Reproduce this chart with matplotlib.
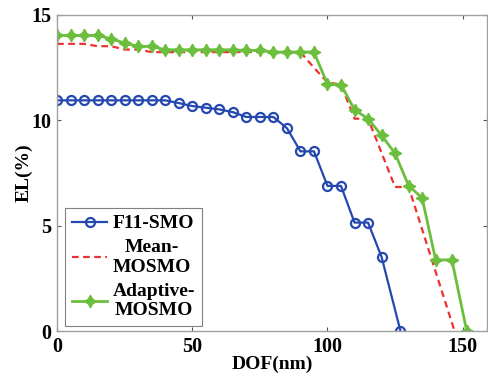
import numpy as np
import matplotlib
matplotlib.use('Agg')
import matplotlib.pyplot as plt

# data
x_f11 = [0, 5, 10, 15, 20, 25, 30, 35, 40, 45, 50, 55, 60, 65, 70, 75, 80,
         85, 90, 95, 100, 105, 110, 115, 120, 127]
y_f11 = [10.95, 10.95, 10.95, 10.95, 10.95, 10.95, 10.95, 10.95, 10.95, 10.82,
         10.68, 10.6, 10.52, 10.39, 10.16, 10.16, 10.16, 9.63, 8.53, 8.53,
         6.89, 6.89, 5.15, 5.15, 3.52, 0.0]

x_mean = [0, 5, 10, 15, 20, 25, 30, 35, 40, 45, 50, 55, 60, 65, 70, 75, 80,
          85, 90, 95, 100, 105, 110, 115, 120, 125, 130, 147]
y_mean = [13.63, 13.63, 13.63, 13.52, 13.52, 13.36, 13.36, 13.24, 13.24, 13.24,
          13.24, 13.24, 13.24, 13.24, 13.24, 13.24, 13.24, 13.24, 13.24, 12.5,
          11.8, 11.7, 10.08, 10.08, 8.46, 6.84, 6.84, 0.0]

x_adapt = [0, 5, 10, 15, 20, 25, 30, 35, 40, 45, 50, 55, 60, 65, 70, 75, 80,
           85, 90, 95, 100, 105, 110, 115, 120, 125, 130, 135, 140, 146, 151.5]
y_adapt = [14.03, 14.03, 14.03, 14.03, 13.87, 13.67, 13.51, 13.51, 13.35, 13.35,
           13.35, 13.35, 13.35, 13.35, 13.32, 13.32, 13.24, 13.24, 13.24, 13.24,
           11.72, 11.7, 10.5, 10.08, 9.29, 8.43, 6.9, 6.32, 3.38, 3.38, 0.0]

plt.rcParams['font.family'] = 'Liberation Serif'
plt.rcParams['font.weight'] = 'bold'

fig = plt.figure(figsize=(4.88, 3.75), dpi=100)
ax = fig.add_axes([0.117, 0.117, 0.881, 0.843])

ax.plot(x_f11, y_f11, color='#2548b0', lw=1.6, marker='o', ms=6.5,
        mfc='none', mew=1.6, label='F11-SMO')
ax.plot(x_mean, y_mean, color='#f03030', lw=1.6, ls=(0, (3, 2)),
        label='Mean-\nMOSMO')
ax.plot(x_adapt, y_adapt, color='#6cbf3c', lw=2.0, marker=(4, 1, 0), ms=9,
        label='Adaptive-\nMOSMO')

ax.set_xlim(0, 159)
ax.set_ylim(0, 15)
ax.set_xticks([0, 50, 100, 150])
ax.set_yticks([0, 5, 10, 15])
ax.tick_params(direction='in', length=3, width=0.8, top=True, right=True,
               labelsize=14.5, color='#555555', pad=4)
for lab in ax.get_xticklabels() + ax.get_yticklabels():
    lab.set_fontweight('bold')
for s in ax.spines.values():
    s.set_color('#a0a0a0')
    s.set_linewidth(1.0)

ax.set_xlabel('DOF(nm)', fontsize=14, fontweight='bold', labelpad=-1)
ax.set_ylabel('EL(%)', fontsize=14, fontweight='bold', labelpad=-1)

leg = ax.legend(loc='lower left', bbox_to_anchor=(0.019, 0.016),
                borderaxespad=0, frameon=True, fancybox=False,
                handlelength=1.8, handletextpad=0.3, borderpad=0.35,
                labelspacing=0.35, prop={'weight': 'bold', 'size': 14})
leg.get_frame().set_edgecolor('#606060')
leg.get_frame().set_linewidth(0.8)
for t in leg.get_texts():
    t.set_multialignment('center')

fig.savefig('out.png', dpi=100)
